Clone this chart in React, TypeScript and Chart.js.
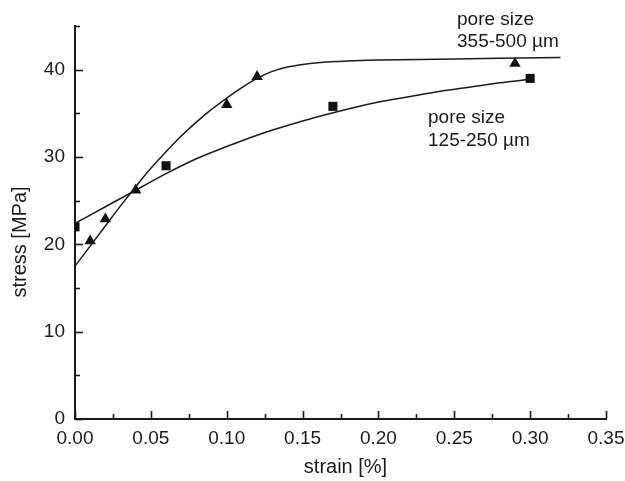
import React, { useEffect, useRef } from 'react';
import { Chart, registerables } from 'chart.js';

Chart.register(...registerables);

const FONT = '"Liberation Sans", Arial, Helvetica, sans-serif';
const INK = '#1a1a1a';

// Measured points, pore size 125-250 µm (squares)
const squareStrain = [0, 0.06, 0.17, 0.3];
const squareStress = [22.0, 29.0, 35.8, 39.0];

// Measured points, pore size 355-500 µm (triangles)
const triStrain = [0.01, 0.02, 0.04, 0.1, 0.12, 0.29];
const triStress = [20.4, 22.9, 26.2, 36.0, 39.2, 40.7];

// Fitted curve, 125-250 µm
const fitSmallStrain = [0, 0.02, 0.04, 0.06, 0.08, 0.1, 0.12, 0.14, 0.16, 0.18, 0.2, 0.22, 0.24, 0.26, 0.28, 0.3];
const fitSmallStress = [22.4, 24.3, 26.2, 28.1, 29.8, 31.2, 32.5, 33.6, 34.6, 35.5, 36.3, 36.9, 37.5, 38.0, 38.5, 38.9];

// Fitted curve, 355-500 µm
const fitLargeStrain = [0, 0.01, 0.02, 0.03, 0.04, 0.05, 0.06, 0.07, 0.08, 0.09, 0.1, 0.11, 0.12, 0.13, 0.14, 0.15, 0.16, 0.18, 0.2, 0.24, 0.28, 0.32];
const fitLargeStress = [17.5, 19.8, 22.1, 24.4, 26.6, 28.7, 30.6, 32.4, 34.0, 35.45, 36.75, 37.95, 39.0, 39.8, 40.3, 40.6, 40.8, 41.0, 41.1, 41.2, 41.3, 41.4];

const xTitle = 'strain [%]';
const yTitle = 'stress [MPa]';
const labelLarge = ['pore size', '355-500 µm'];
const labelSmall = ['pore size', '125-250 µm'];

const X_MIN = 0;
const X_MAX = 0.35;
const Y_MIN = 0;
const Y_MAX = 45;

export default function App() {
  const ref = useRef<HTMLCanvasElement>(null);

  useEffect(() => {
    const canvas = ref.current;
    if (!canvas) return;
    const pts = (xs: number[], ys: number[]) => xs.map((x, i) => ({ x, y: ys[i] }));

    const overlay = {
      id: 'overlay',
      afterDraw(chart: any) {
        const { ctx } = chart;
        const xs = chart.scales.x;
        const ys = chart.scales.y;
        const area = chart.chartArea;
        ctx.save();
        ctx.strokeStyle = INK;
        ctx.lineWidth = 1.6;
        // inward x ticks
        for (let i = 0; i <= 14; i++) {
          const v = i * 0.025;
          const px = Math.round(xs.getPixelForValue(v)) + 0.5;
          const len = i % 2 === 0 ? 8 : 5;
          ctx.beginPath();
          ctx.moveTo(px, area.bottom);
          ctx.lineTo(px, area.bottom - len);
          ctx.stroke();
        }
        // inward y ticks
        for (let i = 0; i <= 9; i++) {
          const v = i * 5;
          const py = Math.round(ys.getPixelForValue(v)) + 0.5;
          const len = i % 2 === 0 ? 8 : 5;
          ctx.beginPath();
          ctx.moveTo(area.left, py);
          ctx.lineTo(area.left + len, py);
          ctx.stroke();
        }
        ctx.fillStyle = INK;
        // axis titles
        ctx.font = `20px ${FONT}`;
        ctx.textAlign = 'center';
        ctx.textBaseline = 'alphabetic';
        ctx.fillText(xTitle, (area.left + area.right) / 2 + 5, 473);
        ctx.save();
        ctx.translate(26, 242);
        ctx.rotate(-Math.PI / 2);
        ctx.fillText(yTitle, 0, 0);
        ctx.restore();
        // annotations
        ctx.font = `19px ${FONT}`;
        ctx.textAlign = 'left';
        ctx.fillText(labelLarge[0], 457, 25);
        ctx.fillText(labelLarge[1], 457, 47);
        ctx.fillText(labelSmall[0], 428, 123);
        ctx.fillText(labelSmall[1], 428, 146);
        ctx.restore();
      },
    };

    const chart = new Chart(canvas, {
      type: 'scatter',
      data: {
        datasets: [
          {
            type: 'line',
            label: 'fit 355-500 µm',
            data: pts(fitLargeStrain, fitLargeStress),
            borderColor: INK,
            borderWidth: 1.5,
            pointRadius: 0,
            cubicInterpolationMode: 'monotone',
            fill: false,
          },
          {
            type: 'line',
            label: 'fit 125-250 µm',
            data: pts(fitSmallStrain, fitSmallStress),
            borderColor: INK,
            borderWidth: 1.5,
            pointRadius: 0,
            cubicInterpolationMode: 'monotone',
            fill: false,
          },
          {
            label: 'pore size 355-500 µm',
            data: pts(triStrain, triStress),
            pointStyle: 'triangle',
            pointRadius: 6.6,
            backgroundColor: '#111',
            borderColor: '#111',
            borderWidth: 0,
          },
          {
            label: 'pore size 125-250 µm',
            data: pts(squareStrain, squareStress),
            pointStyle: 'rect',
            pointRadius: 6.4,
            backgroundColor: '#111',
            borderColor: '#111',
            borderWidth: 0,
          },
        ],
      },
      options: {
        animation: false,
        responsive: false,
        devicePixelRatio: 1,
        layout: { padding: { left: 0, right: 19, top: 26, bottom: 0 } },
        plugins: {
          legend: { display: false },
          tooltip: { enabled: false },
        },
        scales: {
          x: {
            type: 'linear',
            min: X_MIN,
            max: X_MAX,
            afterFit: (s: any) => {
              s.height = 62;
              s.paddingLeft = 0;
              s.paddingRight = 0;
            },
            grid: { display: false, drawTicks: false },
            border: { display: true, color: INK, width: 2 },
            ticks: {
              stepSize: 0.05,
              padding: 8,
              color: INK,
              font: { family: FONT, size: 19 },
              maxRotation: 0,
              callback: (v: any) => Number(v).toFixed(2),
            },
          },
          y: {
            type: 'linear',
            min: Y_MIN,
            max: Y_MAX,
            afterFit: (s: any) => {
              s.width = 75;
              s.paddingTop = 0;
              s.paddingBottom = 0;
            },
            grid: { display: false, drawTicks: false },
            border: { display: true, color: INK, width: 2 },
            ticks: {
              stepSize: 10,
              includeBounds: false,
              padding: 10,
              color: INK,
              font: { family: FONT, size: 19 },
              callback: (v: any) => String(v),
            },
          },
        },
      },
      plugins: [overlay],
    } as any);

    return () => chart.destroy();
  }, []);

  return (
    <div style={{ position: 'fixed', left: 0, top: 0, width: 625, height: 481, background: '#fff' }}>
      <canvas ref={ref} width={625} height={481} />
    </div>
  );
}
